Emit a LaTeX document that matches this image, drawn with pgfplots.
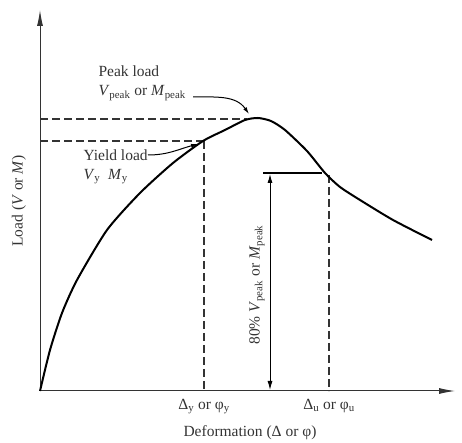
\documentclass[border=0pt]{standalone}
\usepackage{pgfplots}
\pgfplotsset{compat=1.18}
\usepackage{fontspec}
\setmainfont{Liberation Serif}
\usetikzlibrary{arrows.meta}

\newcommand{\lbl}{\fontsize{15.5}{18}\selectfont}

\begin{document}
\begin{tikzpicture}[font=\lbl]
\useasboundingbox (-40pt,-52pt) rectangle (422pt,391pt);
\begin{axis}[
    at={(0pt,0pt)}, anchor=origin,
    x=1pt, y=1pt,
    xmin=0, xmax=415, ymin=0, ymax=381,
    axis x line=bottom, axis y line=left,
    axis line style={line width=1pt, black!80, -{Latex[length=16pt,width=6pt]}},
    xtick={164,289}, ytick=\empty,
    xticklabels={{Δ\textsubscript{y} or φ\textsubscript{y}}, {Δ\textsubscript{u} or φ\textsubscript{u}}},
    major tick length=0pt,
    tick label style={font=\lbl, text=black!80},
    x tick label style={yshift=-5pt},
    xlabel={Deformation (Δ or φ)},
    ylabel={Load (\textit{V} or \textit{M})},
    label style={font=\lbl, text=black!80},
    xlabel style={at={(axis cs:210,-42)}, anchor=center},
    ylabel style={at={(axis cs:-21,190)}, anchor=center},
    clip=false,
]
% dashed reference lines
\addplot[black!80, line width=1.1pt, dash pattern=on 8pt off 4pt] coordinates {(0,272) (207,272)};
\addplot[black!80, line width=1.1pt, dash pattern=on 8pt off 4pt] coordinates {(0,250) (164,250)};
\addplot[black!80, line width=1.1pt, dash pattern=on 8pt off 4pt] coordinates {(164,250) (164,0)};
\addplot[black!80, line width=1.1pt, dash pattern=on 8pt off 4pt] coordinates {(289,216) (289,0)};
% 80% level
\addplot[black, line width=1.4pt] coordinates {(223,218) (282,218)};
\addplot[black, line width=1pt, {Latex[length=9pt,width=5pt]}-{Latex[length=9pt,width=5pt]}] coordinates {(230,217) (230,1)};
% load-deformation curve
\addplot[black, line width=2pt, smooth, tension=0.4] coordinates {
(0,0) (10,41) (22,78) (37,111) (67,161) (100,198) (133,228)
(163,250) (185,261) (205,271) (218,273) (231,270) (245,261) (267,240)
(285,218) (300,204) (320,191) (353,171) (392,151)};
% annotations
\node[anchor=west, text=black!80] at (axis cs:55,320) {Peak load};
\node[anchor=west, text=black!80] at (axis cs:55,298) {\textit{V}\textsubscript{peak} or \textit{M}\textsubscript{peak}};
\draw[black, line width=1pt, -{Latex[length=7pt,width=4pt]}] (axis cs:153,294) to[out=0,in=125] (axis cs:209,277);
\node[anchor=west, text=black!80] at (axis cs:40,236) {Yield load};
\node[anchor=west, text=black!80] at (axis cs:40,214) {\textit{V}\textsubscript{y}\ \ \textit{M}\textsubscript{y}};
\draw[black, line width=1pt, -{Latex[length=7pt,width=4pt]}] (axis cs:108,236) to[out=0,in=195] (axis cs:158,247);
\node[rotate=90, text=black!80] at (axis cs:217,106) {80\% \textit{V}\textsubscript{peak} or \textit{M}\textsubscript{peak}};
\end{axis}
\end{tikzpicture}
\end{document}
